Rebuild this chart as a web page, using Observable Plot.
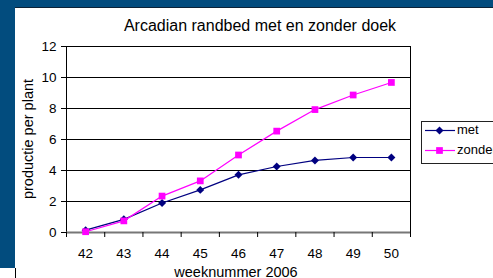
<!DOCTYPE html>
<html>
<head>
<meta charset="utf-8">
<script src="https://cdn.jsdelivr.net/npm/d3@7"></script>
<script src="https://cdn.jsdelivr.net/npm/@observablehq/plot@0.6"></script>
<style>
  html, body { margin: 0; padding: 0; }
  body { width: 493px; height: 278px; overflow: hidden; position: relative; background: #ffffff;
         font-family: "Liberation Sans", Arial, sans-serif; color: #000; }
  .abs { position: absolute; }
  #bgTop { left: 0; top: 0; width: 493px; height: 7px; background: #024c7e; }
  #bgTopLine { left: 0; top: 7px; width: 493px; height: 1px; background: #0b2236; }
  #bgLeft { left: 0; top: 0; width: 15px; height: 268px; background: #024c7e; }
  #leftLine { left: 15px; top: 268px; width: 1px; height: 10px; background: #000; }
  #chart { left: 0; top: 0; }
  #title { left: 260px; top: 18px; transform: translateX(-50%); font-size: 16px; line-height: 16px; white-space: nowrap; }
  #xlabel { left: 236px; top: 265.5px; transform: translateX(-50%); font-size: 14.5px; line-height: 12px; white-space: nowrap; }
  #ylabel { left: 28px; top: 139px; transform: translate(-50%, -50%) rotate(-90deg); font-size: 14.5px; line-height: 14.5px; white-space: nowrap; }
  #legend { left: 421px; top: 121px; width: 90px; height: 41px; border: 1px solid #222; background: #fff; }
  .item { position: absolute; left: 0; height: 16px; font-size: 13px; line-height: 16px; white-space: nowrap; }
  .item svg { position: absolute; left: 3px; top: 0; }
  .item span { position: absolute; left: 35px; top: 0; }
</style>
</head>
<body>
<div id="bgTop" class="abs"></div>
<div id="bgTopLine" class="abs"></div>
<div id="bgLeft" class="abs"></div>
<div id="leftLine" class="abs"></div>
<div id="chart" class="abs"></div>
<div id="title" class="abs">Arcadian randbed met en zonder doek</div>
<div id="ylabel" class="abs">productie per plant</div>
<div id="xlabel" class="abs">weeknummer 2006</div>
<div id="legend" class="abs"></div>
<script>
// ---- data ----
const weeks = [42, 43, 44, 45, 46, 47, 48, 49, 50];
const met = [0.15, 0.85, 1.9, 2.75, 3.72, 4.26, 4.65, 4.84, 4.84];
const zonder = [0.05, 0.75, 2.35, 3.33, 5.0, 6.54, 7.93, 8.87, 9.68];
const yTicks = [0, 2, 4, 6, 8, 10, 12];
const seriesNames = ["met", "zonder"];
const seriesColors = ["#000080", "#ff00ff"];
const seriesSymbols = ["diamond2", "square"];

// category edges (band boundaries) for the tick marks between categories
const edges = [weeks[0] - 0.5, ...weeks.map(w => w + 0.5)];
const xDomain = [edges[0], edges[edges.length - 1]];

const chart = Plot.plot({
  width: 493,
  height: 278,
  marginLeft: 66,
  marginRight: 83,
  marginTop: 46,
  marginBottom: 46,
  style: { background: "transparent", fontFamily: "Liberation Sans, Arial, sans-serif", fontSize: "13.5px", color: "#000", overflow: "visible" },
  x: { type: "linear", domain: xDomain },
  y: { domain: [yTicks[0], yTicks[yTicks.length - 1]] },
  marks: [
    // gridlines
    Plot.ruleY(yTicks.filter(t => t > 0), { stroke: "#000", strokeWidth: 1 }),
    // frame sides
    Plot.ruleX([xDomain[0]], { stroke: "#000", strokeWidth: 1 }),
    Plot.ruleX([xDomain[1]], { stroke: "#000", strokeWidth: 1 }),
    Plot.ruleY([0], { stroke: "#777", strokeWidth: 2 }),
    // y axis
    Plot.axisY({ ticks: yTicks, tickSize: 5, tickPadding: 5, label: null, stroke: "#000", fontSize: 13.5 }),
    // x axis labels
    Plot.axisX({ ticks: weeks, tickSize: 0, tickPadding: 16, label: null, fontSize: 13.5, tickFormat: d => String(d) }),
    // x tick marks at category boundaries
    Plot.axisX({ ticks: edges, tickSize: 5, tickFormat: () => "", label: null, stroke: "#000" }),
    // series: met
    Plot.line(weeks, { x: weeks, y: met, stroke: seriesColors[0], strokeWidth: 1.2 }),
    Plot.dot(weeks, { x: weeks, y: met, symbol: seriesSymbols[0], fill: seriesColors[0], stroke: "none", r: 3.6 }),
    // series: zonder
    Plot.line(weeks, { x: weeks, y: zonder, stroke: seriesColors[1], strokeWidth: 1.2 }),
    Plot.dot(weeks, { x: weeks, y: zonder, symbol: seriesSymbols[1], fill: seriesColors[1], stroke: "none", r: 3.8 })
  ]
});
document.getElementById("chart").appendChild(chart);

// ---- legend ----
const legend = document.getElementById("legend");
const symMap = { diamond2: d3.symbolDiamond2, square: d3.symbolSquare };
seriesNames.forEach((name, i) => {
  const item = document.createElement("div");
  item.className = "item";
  item.style.top = (i === 0 ? 0 : 19.5) + "px";
  const svg = d3.create("svg").attr("width", 30).attr("height", 16);
  svg.append("line").attr("x1", 0).attr("x2", 30).attr("y1", 8.5).attr("y2", 8.5)
    .attr("stroke", seriesColors[i]).attr("stroke-width", 1.2);
  const r = i === 0 ? 3.6 : 3.8;
  svg.append("path").attr("transform", "translate(14.5,8.5)")
    .attr("d", d3.symbol(symMap[seriesSymbols[i]], Math.PI * r * r)())
    .attr("fill", seriesColors[i]);
  item.appendChild(svg.node());
  const span = document.createElement("span");
  span.textContent = name;
  item.appendChild(span);
  legend.appendChild(item);
});
</script>
</body>
</html>
